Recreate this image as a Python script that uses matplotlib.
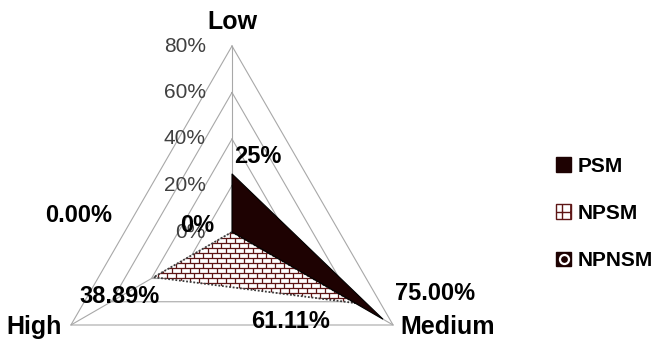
import numpy as np
import matplotlib.pyplot as plt
from matplotlib.patches import Polygon, Patch
from matplotlib.lines import Line2D
from matplotlib.collections import LineCollection
from matplotlib.legend_handler import HandlerTuple

plt.rcParams['font.family'] = ['Liberation Sans', 'DejaVu Sans']

# radar axes, clockwise from the top
categories = ['Low', 'Medium', 'High']
angles_deg = [90, -30, 210]

levels = [0, 20, 40, 60, 80]
level_labels = ['0%', '20%', '40%', '60%', '80%']

series_names = ['PSM', 'NPSM', 'NPNSM']
psm = [25, 75, 0]
npsm = [0, 61.11, 38.89]
psm_labels = ['25%', '75.00%', '0.00%']
npsm_labels = ['0%', '61.11%', '38.89%']

PX = 2.325  # pixels per percent on the axes
dark = '#1e0202'
brick = '#5e1616'
grid_col = '#a8a8a8'


def to_xy(values):
    a = np.radians(angles_deg)
    v = np.asarray(values, dtype=float)
    return np.column_stack([v * np.cos(a), v * np.sin(a)])


def brick_segments(pts, w, h):
    x0, y0 = pts.min(axis=0)
    x1, y1 = pts.max(axis=0)
    segs = []
    for k, y in enumerate(np.arange(y0, y1 + h, h)):
        segs.append([(x0, y), (x1, y)])
        shift = (k % 2) * w / 2
        for x in np.arange(x0 - w + shift, x1 + w, w):
            segs.append([(x, y), (x, y + h)])
    return segs


fig = plt.figure(figsize=(6.56, 3.39), dpi=100)
ax = fig.add_axes([0, 0, 1, 1])
ax.set_xlim(-232 / PX, (656 - 232) / PX)
ax.set_ylim(-(339 - 232) / PX, 232 / PX)
ax.axis('off')

# triangular grid
for lv in levels[1:]:
    tri = to_xy([lv] * 3)
    tri = np.vstack([tri, tri[:1]])
    ax.plot(tri[:, 0], tri[:, 1], color=grid_col, lw=0.8, zorder=1)
outer = to_xy([levels[-1]] * 3)
for x, y in outer:
    ax.plot([0, x], [0, y], color=grid_col, lw=0.8, zorder=1)

for lv, lab in zip(levels, level_labels):
    ax.annotate(lab, (0, lv), xytext=(-26 * 0.72, 0), textcoords='offset points',
                ha='right', va='center', fontsize=15, color='#404040', zorder=5)

# NPSM - brick fill with dotted outline
p_npsm = to_xy(npsm)
face = Polygon(p_npsm, closed=True, facecolor='white', edgecolor='none', zorder=2)
ax.add_patch(face)
bricks = LineCollection(brick_segments(p_npsm, 9 / PX, 5 / PX), colors=brick,
                        linewidths=0.9, zorder=3)
bricks.set_clip_path(face)
ax.add_collection(bricks)
ax.add_patch(Polygon(p_npsm, closed=True, fill=False, edgecolor='#3a3a3a',
                     lw=1.3, ls=(0, (1, 1)), zorder=4))

# PSM - solid dark fill
p_psm = to_xy(psm)
ax.add_patch(Polygon(p_psm, closed=True, facecolor=dark, edgecolor='black',
                     lw=0.8, zorder=4))

# category names
cat_offsets = [(0, 24), (7, -9), (-9, -9)]
cat_ha = ['center', 'left', 'right']
cat_va = ['center', 'baseline', 'baseline']
for (x, y), name, off, ha, va in zip(outer, categories, cat_offsets, cat_ha, cat_va):
    ax.annotate(name, (x, y), xytext=(off[0] * 0.72, off[1] * 0.72),
                textcoords='offset points', ha=ha, va=va, fontsize=18,
                fontweight='bold', zorder=6)

# value labels
psm_offsets = [(2, 17, 'left'), (12, 26, 'left'), (-153, 17, 'center')]
npsm_offsets = [(-35, 6, 'center'), (-64, -18, 'center'), (-34, -19, 'center')]
for pts, labs, offs in [(p_psm, psm_labels, psm_offsets),
                        (p_npsm, npsm_labels, npsm_offsets)]:
    for (x, y), lab, (dx, dy, ha) in zip(pts, labs, offs):
        ax.annotate(lab, (x, y), xytext=(dx * 0.72, dy * 0.72),
                    textcoords='offset points', ha=ha, va='center',
                    fontsize=17, fontweight='bold', zorder=6)

handles = [
    Patch(facecolor=dark, edgecolor=dark),
    Patch(facecolor='white', edgecolor=brick, hatch='++'),
    (Patch(facecolor=dark, edgecolor=dark),
     Line2D([], [], ls='none', marker='o', markersize=6.5,
            markerfacecolor=dark, markeredgecolor='white', markeredgewidth=1.6)),
]
fig.legend(handles, series_names, loc='upper left',
           bbox_to_anchor=(556 / 656, 1 - 157 / 339), frameon=False,
           prop={'size': 15, 'weight': 'bold'}, handlelength=0.72,
           handleheight=0.72, handletextpad=0.3, labelspacing=1.35,
           borderpad=0, borderaxespad=0,
           handler_map={tuple: HandlerTuple(ndivide=1)})

fig.savefig('out.png', dpi=100)
